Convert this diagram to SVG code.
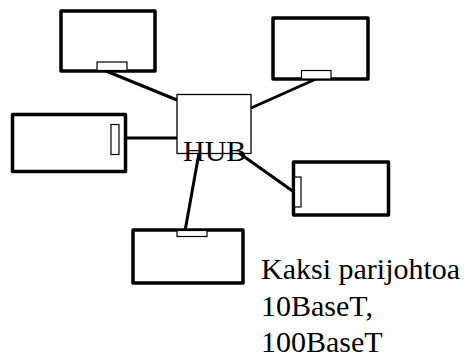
<svg xmlns="http://www.w3.org/2000/svg" width="476" height="359" viewBox="0 0 476 359">
<style>
.node{fill:#fff;stroke:#000;stroke-width:3.5;stroke-linejoin:round}
.port{fill:#fff;stroke:#000;stroke-width:1.2}
.hub{fill:#fff;stroke:#000;stroke-width:1.3}
.wire{stroke:#000;stroke-width:3;fill:none}
.t{font-size:30px;fill:#000}
</style>
<rect width="476" height="359" fill="#fff"/>
<g id="hub">
<rect class="hub" x="177" y="94.5" width="74" height="59"/>
</g>
<g id="connectors">
<line class="wire" x1="106" y1="71" x2="177" y2="100"/>
<line class="wire" x1="316" y1="79" x2="251" y2="108"/>
<line class="wire" x1="110" y1="138" x2="177" y2="138"/>
<line class="wire" x1="239" y1="153" x2="294" y2="192"/>
<line class="wire" x1="185" y1="231" x2="199" y2="153"/>
</g>
<g id="node-top-left">
<rect class="node" x="61" y="11" width="94" height="60"/>
<rect class="port" x="97" y="62" width="30" height="8.5"/>
</g>
<g id="node-top-right">
<rect class="node" x="273" y="18" width="95" height="61"/>
<rect class="port" x="301.5" y="70.5" width="29.5" height="8.5"/>
</g>
<g id="node-left">
<rect class="node" x="12.5" y="114.5" width="113" height="57"/>
<rect class="port" x="111" y="124.5" width="8" height="30"/>
</g>
<g id="node-right">
<rect class="node" x="293.5" y="162" width="95" height="53"/>
<rect class="port" x="294.5" y="177" width="6.5" height="30"/>
</g>
<g id="node-bottom">
<rect class="node" x="133" y="230" width="110" height="53"/>
<rect class="port" x="177" y="230.5" width="30" height="6"/>
</g>
<g id="hub-label">
<text class="t" font-family="'Liberation Serif', 'Times New Roman', 'DejaVu Serif', serif" x="183" y="161">HUB</text>
</g>
<g id="caption" font-family="'Liberation Serif', 'Times New Roman', 'DejaVu Serif', serif">
<text class="t" x="261" y="279">Kaksi parijohtoa</text>
<text class="t" x="261" y="315.5">10BaseT,</text>
<text class="t" x="261" y="352">100BaseT</text>
</g>
</svg>
